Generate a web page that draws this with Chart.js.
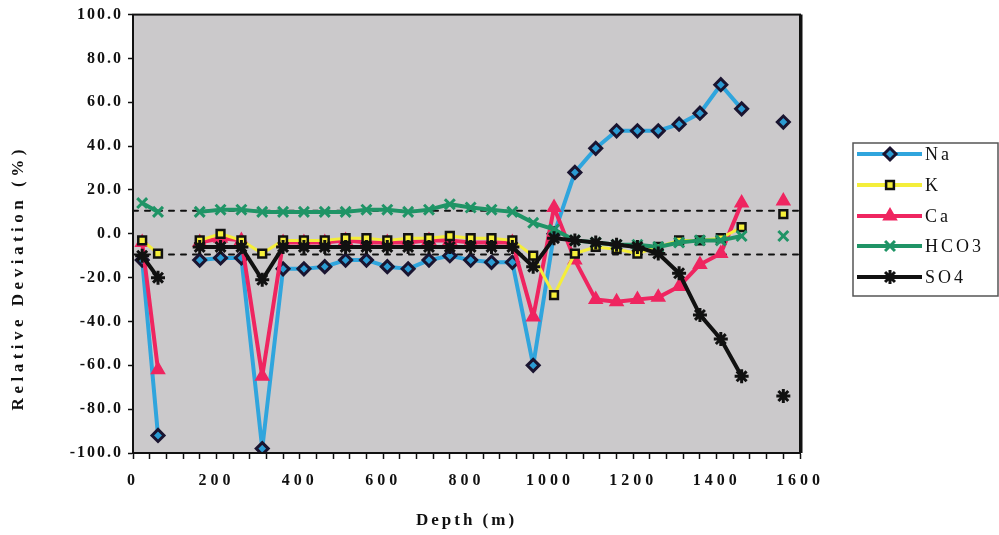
<!DOCTYPE html>
<html>
<head>
<meta charset="utf-8">
<script src="https://cdn.jsdelivr.net/npm/chart.js@4.4.1/dist/chart.umd.min.js"></script>
<style>
  html, body { margin: 0; padding: 0; background: #ffffff; }
  #wrap { width: 999px; height: 535px; }
</style>
</head>
<body>
<div id="wrap"><canvas id="c" width="999" height="535"></canvas></div>
<script>
// ---- data ----
const depths = [22, 60, 110, 160, 210, 260, 310, 360, 410, 460, 510, 560, 610, 660, 710, 760, 810, 860, 910, 960, 1010, 1060, 1110, 1160, 1210, 1260, 1310, 1360, 1410, 1460, 1510, 1560];
const naValues   = [-12, -92, null, -12, -11, -11, -98, -16, -16, -15, -12, -12, -15, -16, -12, -10, -12, -13, -13, -60, 0, 28, 39, 47, 47, 47, 50, 55, 68, 57, null, 51];
const kValues    = [-3, -9, null, -3, 0, -3, -9, -3, -3, -3, -2, -2, -3, -2, -2, -1, -2, -2, -3, -10, -28, -9, -6, -7, -9, -6, -3, -3, -2, 3, null, 9];
const caValues   = [-4, -62, null, -4, -2, -3, -65, -4, -4, -4, -3, -4, -4, -4, -3, -3, -4, -4, -4, -38, 12, -12, -30, -31, -30, -29, -24, -14, -9, 14, null, 15];
const hco3Values = [14, 10, null, 10, 11, 11, 10, 10, 10, 10, 10, 11, 11, 10, 11, 13.5, 12, 11, 10, 5, 2, -3, -4, -5, -5, -6, -4, -3, -3, -1, null, -1];
const so4Values  = [-10, -20, null, -6, -6, -6, -21, -6, -6, -6, -6, -6, -6, -6, -6, -6, -6, -6, -6, -15, -2, -3, -4, -5, -6, -9, -18, -37, -48, -65, null, -74];
const refLines = [10.5, -9.5];
const refSpan = [0, 1600];
const seriesNames = ['Na', 'K', 'Ca', 'HCO3', 'SO4'];
const xTickLabels = [0, 200, 400, 600, 800, 1000, 1200, 1400, 1600];
const yTickValues = [-100, -80, -60, -40, -20, 0, 20, 40, 60, 80, 100];

const pts = vals => depths.map((d, i) => ({ x: d, y: vals[i] }));

const styles = {
  Na:   { line: '#30a5dd', width: 4, pointStyle: 'rectRot', radius: 6, bg: '#2b9bd3', border: '#1a1430', bw: 3 },
  K:    { line: '#f4ee3a', width: 3, pointStyle: 'rect', radius: 5.5, bg: '#f6f03a', border: '#111111', bw: 2.5 },
  Ca:   { line: '#ef2560', width: 4, pointStyle: 'triangle', radius: 7, bg: '#ef2560', border: '#ef2560', bw: 2 },
  HCO3: { line: '#1f9466', width: 4, pointStyle: 'crossRot', radius: 7, bg: '#1f9466', border: '#1f9466', bw: 3 },
  SO4:  { line: '#111111', width: 4, pointStyle: 'star', radius: 7, bg: '#111111', border: '#111111', bw: 3 }
};
const valuesByName = { Na: naValues, K: kValues, Ca: caValues, HCO3: hco3Values, SO4: so4Values };
const orderByName = { Na: 4, K: 2, Ca: 3, HCO3: 1, SO4: 0 };

const datasets = seriesNames.map(n => {
  const s = styles[n];
  return {
    label: n,
    data: pts(valuesByName[n]),
    borderColor: s.line,
    borderWidth: s.width,
    backgroundColor: s.bg,
    pointStyle: s.pointStyle,
    pointRadius: s.radius,
    pointBackgroundColor: s.bg,
    pointBorderColor: s.border,
    pointBorderWidth: s.bw,
    spanGaps: false,
    tension: 0,
    order: orderByName[n]
  };
});
refLines.forEach(v => {
  datasets.push({
    label: '_ref',
    data: refSpan.map(x => ({ x: x, y: v })),
    borderColor: '#111111',
    borderWidth: 2,
    borderDash: [5, 7],
    pointRadius: 0,
    order: 10
  });
});

const spacingPlugin = {
  id: 'spacing',
  beforeDraw(chart) {
    const patch = (scale, lab, tit, dy) => {
      if (scale._patched) return;
      const dl = scale.drawLabels.bind(scale), dt = scale.drawTitle.bind(scale);
      scale.drawLabels = a => { const c = chart.ctx; c.save(); c.letterSpacing = lab; dl(a); c.restore(); };
      scale.drawTitle = a => { const c = chart.ctx; c.save(); c.translate(0, dy); c.letterSpacing = tit; dt(a); c.restore(); };
      scale._patched = true;
    };
    patch(chart.scales.x, '4px', '3px', 0);
    patch(chart.scales.y, '2px', '4.5px', 44);
  }
};

const bgPlugin = {
  id: 'plotBg',
  beforeDraw(chart) {
    const { ctx, chartArea: a } = chart;
    ctx.save();
    ctx.fillStyle = '#cbc9cb';
    ctx.fillRect(a.left, a.top, a.right - a.left, a.bottom - a.top);
    ctx.restore();
  },
  afterDraw(chart) {
    const { ctx, chartArea: a } = chart;
    ctx.save();
    ctx.strokeStyle = '#111111';
    ctx.lineWidth = 2;
    ctx.strokeRect(a.left, a.top, a.right - a.left, a.bottom - a.top);
    ctx.lineWidth = 3;
    ctx.beginPath(); ctx.moveTo(a.right + 1, a.top); ctx.lineTo(a.right + 1, a.bottom); ctx.stroke();
    ctx.restore();

    // legend
    const bx = 853, by = 143, bw = 145, bh = 153;
    ctx.save();
    ctx.fillStyle = '#ffffff';
    ctx.fillRect(bx, by, bw, bh);
    ctx.strokeStyle = '#555555';
    ctx.lineWidth = 1.5;
    ctx.strokeRect(bx, by, bw, bh);
    const rowY = [154, 185, 216, 246, 277];
    seriesNames.forEach((n, i) => {
      const s = styles[n];
      const y = rowY[i];
      ctx.strokeStyle = s.line;
      ctx.lineWidth = 4;
      ctx.setLineDash([]);
      ctx.beginPath(); ctx.moveTo(857, y); ctx.lineTo(922, y); ctx.stroke();
      ctx.fillStyle = s.bg;
      ctx.strokeStyle = s.border;
      ctx.lineWidth = s.bw;
      Chart.helpers.drawPoint(ctx, { pointStyle: s.pointStyle, radius: s.radius, rotation: 0, borderWidth: s.bw }, 890, y);
      ctx.fillStyle = '#111111';
      ctx.font = '18px "Liberation Serif"';
      ctx.letterSpacing = '3px';
      ctx.textBaseline = 'middle';
      ctx.textAlign = 'left';
      ctx.fillText(n, 925, y + 1);
    });
    ctx.restore();
  }
};

new Chart(document.getElementById('c'), {
  type: 'line',
  data: { datasets: datasets },
  options: {
    responsive: false,
    animation: false,
    layout: { padding: { left: 0, right: 199, top: 13, bottom: 0 } },
    plugins: { legend: { display: false }, tooltip: { enabled: false } },
    elements: { line: { borderJoinStyle: 'round', borderCapStyle: 'round' } },
    scales: {
      x: {
        type: 'linear', min: 0, max: 1600,
        afterBuildTicks(scale) {
          const t = [];
          for (let v = 0; v <= 1600; v += 40) t.push({ value: v });
          scale.ticks = t;
        },
        ticks: {
          autoSkip: false, maxRotation: 0,
          callback: v => xTickLabels.includes(v) ? String(v) : '',
          color: '#111111', padding: 12,
          font: { family: '"Liberation Serif"', size: 16, weight: 'bold' }
        },
        grid: { drawOnChartArea: false, tickLength: 6, tickColor: '#111111', tickWidth: 1.5 },
        border: { display: true, color: '#111111', width: 2 },
        title: { display: true, text: 'Depth (m)', color: '#111111', padding: { top: 4, bottom: 4 },
                 font: { family: '"Liberation Serif"', size: 17, weight: 'bold' } },
        afterFit(scale) { scale.height = 82; }
      },
      y: {
        min: -100, max: 100,
        afterBuildTicks(scale) { scale.ticks = yTickValues.map(v => ({ value: v })); },
        ticks: {
          callback: v => Number(v).toFixed(1),
          color: '#111111', padding: 5,
          font: { family: '"Liberation Serif"', size: 16, weight: 'bold' }
        },
        grid: { drawOnChartArea: false, tickLength: 5, tickColor: '#111111', tickWidth: 1.5 },
        border: { display: true, color: '#111111', width: 2 },
        title: { display: true, text: 'Relative Deviation (%)', color: '#111111', padding: { top: 8, bottom: 4 },
                 font: { family: '"Liberation Serif"', size: 17, weight: 'bold' } },
        afterFit(scale) { scale.width = 133; }
      }
    }
  },
  plugins: [spacingPlugin, bgPlugin]
});
</script>
</body>
</html>
